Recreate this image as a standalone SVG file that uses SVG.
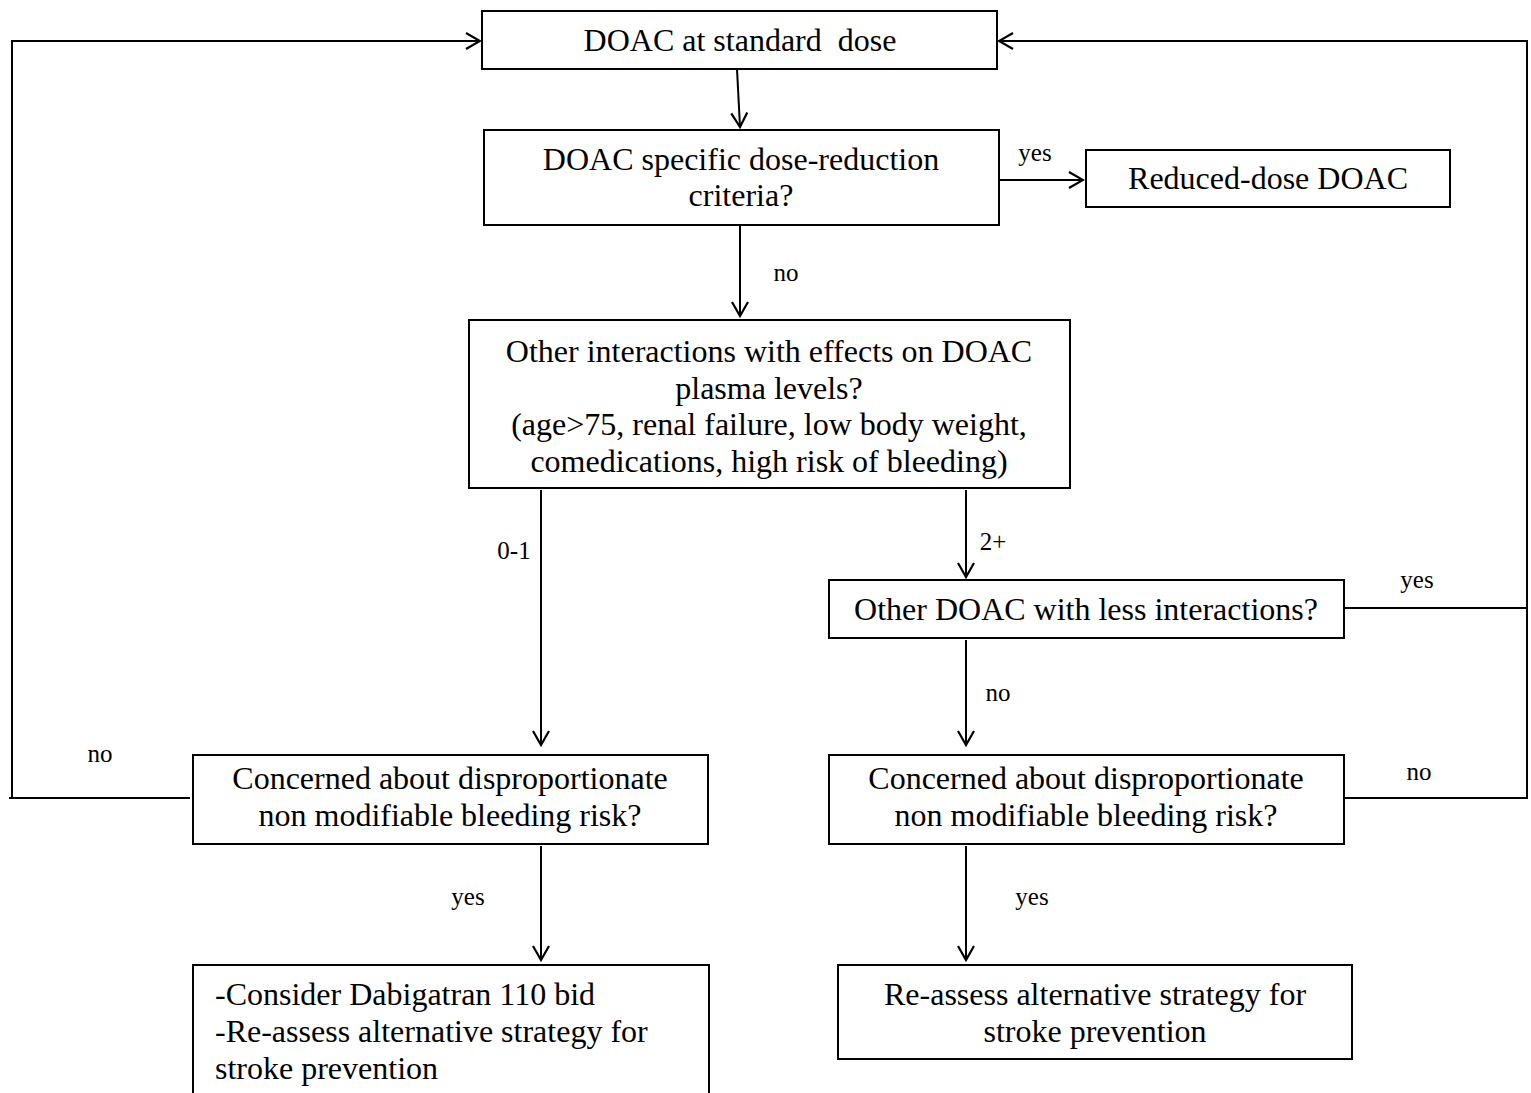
<svg xmlns="http://www.w3.org/2000/svg" width="1531" height="1093" viewBox="0 0 1531 1093">
<style>
.box{fill:#fff;stroke:#000;stroke-width:2}
.t{font-family:"Liberation Serif","Times New Roman",serif;font-size:32px;fill:#000;text-anchor:middle}
.tl{font-family:"Liberation Serif","Times New Roman",serif;font-size:32px;fill:#000}
.lbl{font-family:"Liberation Serif","Times New Roman",serif;font-size:25px;fill:#000;text-anchor:middle}
.c{fill:none;stroke:#000;stroke-width:2}
</style>
<defs>
<marker id="a" markerWidth="20" markerHeight="20" refX="18" refY="10" orient="auto" markerUnits="userSpaceOnUse">
<path d="M4,2 L18,10 L4,18" fill="none" stroke="#000" stroke-width="2.2"/>
</marker>
</defs>
<rect width="1531" height="1093" fill="#fff"/>
<g id="connectors">
<path class="c" d="M190,798 H9 M12,798 V41 H480" marker-end="url(#a)"/>
<path class="c" d="M1344,798 H1527 V41 H999" marker-end="url(#a)"/>
<path class="c" d="M1344,608 H1527"/>
<path class="c" d="M737,69 L740,127" marker-end="url(#a)"/>
<path class="c" d="M740,225 V316" marker-end="url(#a)"/>
<path class="c" d="M999,180 H1083" marker-end="url(#a)"/>
<path class="c" d="M541,490 V745" marker-end="url(#a)"/>
<path class="c" d="M966,490 V577" marker-end="url(#a)"/>
<path class="c" d="M966,640 V745" marker-end="url(#a)"/>
<path class="c" d="M541,846 V960" marker-end="url(#a)"/>
<path class="c" d="M966,846 V960" marker-end="url(#a)"/>
<text class="lbl" x="786" y="281">no</text>
<text class="lbl" x="1035" y="161">yes</text>
<text class="lbl" x="514" y="559">0-1</text>
<text class="lbl" x="993" y="550">2+</text>
<text class="lbl" x="998" y="701">no</text>
<text class="lbl" x="468" y="905">yes</text>
<text class="lbl" x="1032" y="905">yes</text>
<text class="lbl" x="100" y="762">no</text>
<text class="lbl" x="1417" y="588">yes</text>
<text class="lbl" x="1419" y="780">no</text>
</g>
<g id="n1"><rect class="box" x="482" y="11" width="515" height="58"/><text class="t" x="740" y="51" xml:space="preserve">DOAC at standard  dose</text></g>
<g id="n2"><rect class="box" x="484" y="130" width="515" height="95"/><text class="t" x="741" y="170">DOAC specific dose-reduction</text><text class="t" x="741" y="206">criteria?</text></g>
<g id="n3"><rect class="box" x="1086" y="150" width="364" height="57"/><text class="t" x="1268" y="189">Reduced-dose DOAC</text></g>
<g id="n4"><rect class="box" x="469" y="320" width="601" height="168"/>
<text class="t" x="769" y="362">Other interactions with effects on DOAC</text>
<text class="t" x="769" y="399">plasma levels?</text>
<text class="t" x="769" y="435">(age&gt;75, renal failure, low body weight,</text>
<text class="t" x="769" y="472">comedications, high risk of bleeding)</text></g>
<g id="n5"><rect class="box" x="829" y="580" width="515" height="58"/><text class="t" x="1086" y="620">Other DOAC with less interactions?</text></g>
<g id="n6"><rect class="box" x="193" y="755" width="515" height="89"/><text class="t" x="450" y="789">Concerned about disproportionate</text><text class="t" x="450" y="826">non modifiable bleeding risk?</text></g>
<g id="n7"><rect class="box" x="829" y="755" width="515" height="89"/><text class="t" x="1086" y="789">Concerned about disproportionate</text><text class="t" x="1086" y="826">non modifiable bleeding risk?</text></g>
<g id="n8"><rect class="box" x="193" y="965" width="516" height="140"/><text class="tl" x="215" y="1005">-Consider Dabigatran 110 bid</text><text class="tl" x="215" y="1042">-Re-assess alternative strategy for</text><text class="tl" x="215" y="1079">stroke prevention</text></g>
<g id="n9"><rect class="box" x="838" y="965" width="514" height="94"/><text class="t" x="1095" y="1005">Re-assess alternative strategy for</text><text class="t" x="1095" y="1042">stroke prevention</text></g>
</svg>
